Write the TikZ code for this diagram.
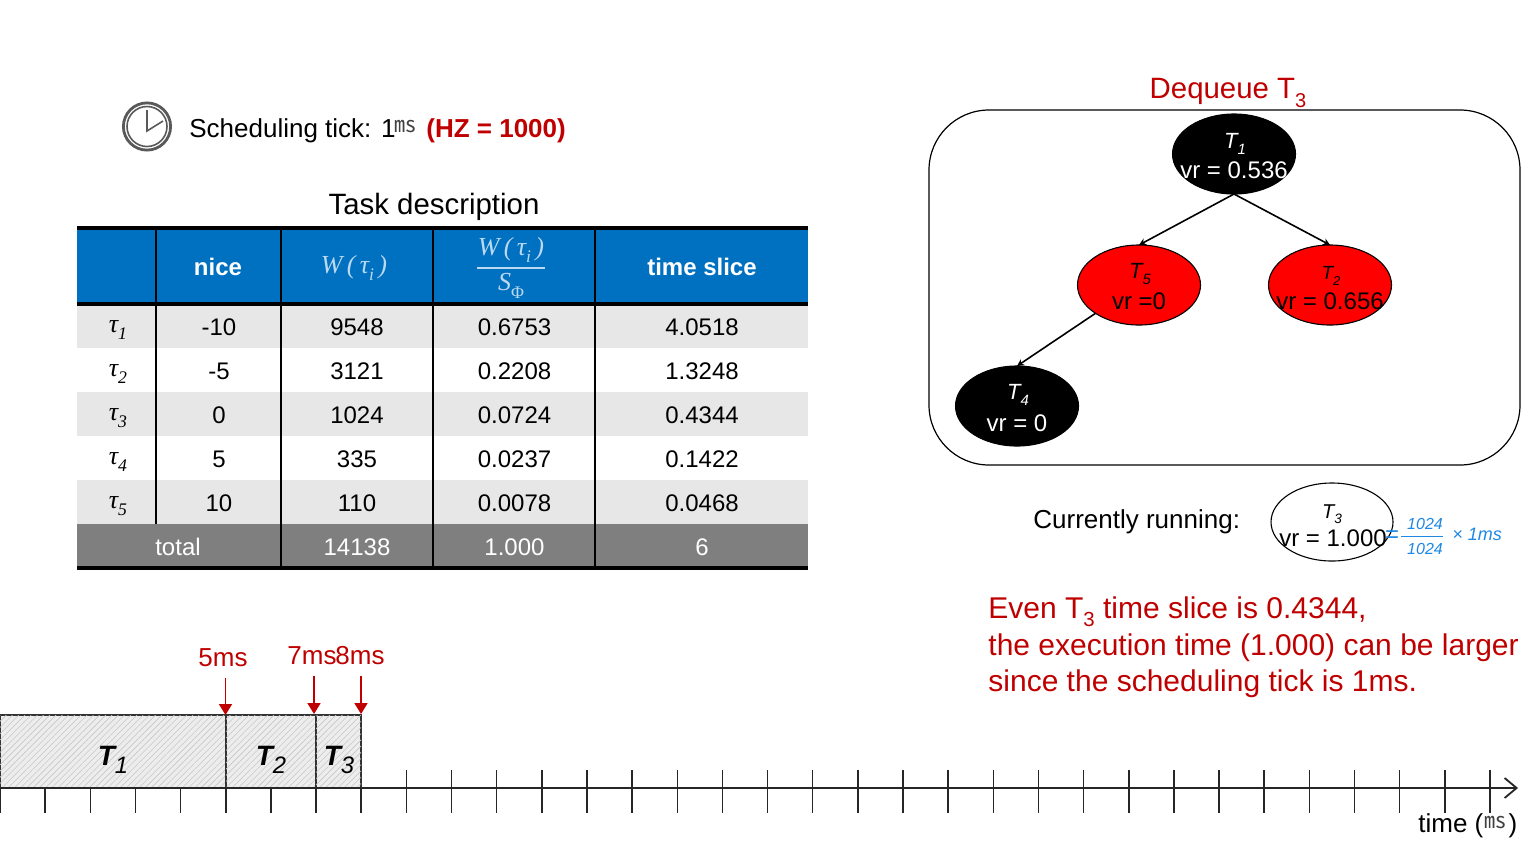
\documentclass[tikz,border=0pt]{standalone}
\usepackage{fontspec}
\setmainfont{Liberation Sans}
\newfontfamily\serf{Liberation Serif}
\newfontfamily\cjkf{Noto Sans CJK KR}
\usetikzlibrary{arrows.meta,shapes.geometric,patterns.meta}
\definecolor{hdrblue}{HTML}{0070C0}
\definecolor{rowgray}{HTML}{E7E7E7}
\definecolor{totgray}{HTML}{7F7F7F}
\definecolor{redtxt}{HTML}{C00000}
\definecolor{inkblue}{HTML}{1E88E5}
\definecolor{mathlt}{HTML}{BBD9F0}
\newcommand\fsz[1]{\fontsize{#1}{#1}\selectfont}
\newcommand\subx[1]{\raisebox{-0.28em}{\scalebox{0.68}{#1}}}
\newcommand\tauidx[1]{{\serf\itshape τ\subx{#1}}}
\newcommand\capT[1]{{\itshape T\subx{#1}}}
\newcommand\capTb[1]{{\bfseries\itshape T\raisebox{-0.3em}{\scalebox{0.85}{\mdseries\itshape #1}}}}
\newcommand\msq{{\cjkf ㎳}}
\tikzset{
 x=0.5pt,y=-0.5pt,
 cell/.style={inner sep=0,anchor=center,font=\fsz{12}},
 taulab/.style={inner sep=0,anchor=center,font=\fsz{13}},
 hdr/.style={inner sep=0,anchor=center,text=white,font=\fsz{12}\bfseries},
 mathhdr/.style={inner sep=0,anchor=center,text=mathlt,font=\fsz{13}\serf\itshape},
 rt/.style={inner sep=0,anchor=center,text=redtxt,font=\fsz{13}},
 para/.style={inner sep=0,anchor=west,text=redtxt,font=\fsz{15}},
 ell/.style={ellipse,draw=black,line width=.55pt,inner sep=0,outer sep=0,minimum width=61.5pt,minimum height=40pt},
 treetxt/.style={inner sep=0,anchor=center,font=\fsz{12}},
 treecap/.style={inner sep=0,anchor=center,font=\fsz{11}},
 treearrow/.style={draw=black,line width=.8pt,-{Stealth[length=3.5pt,width=3.5pt]}},
 redarrow/.style={draw=redtxt,line width=.9pt,-{Triangle[length=5.5pt,width=6.5pt]}},
 tick/.style={draw=black!85,line width=.75pt},
 tline/.style={draw=black!85,line width=.9pt},
 block/.style={rectangle,draw=black!80,line width=.8pt,minimum height=36.5pt,inner sep=0,outer sep=0,anchor=north west,
  fill=black!7,postaction={pattern={Lines[angle=45,distance=2.2pt,line width=.3pt]},pattern color=black!22}},
 hand/.style={inner sep=0,anchor=center,text=inkblue,font=\fsz{8}\itshape},
}
\begin{document}
\begin{tikzpicture}
\path[use as bounding box,fill=white] (0,0) rectangle (1530,852);

% clock
\draw[black!65,line width=1.4pt] (147,126.5) circle[radius=11.8pt];
\draw[black!65,line width=.8pt] (147,126.5) circle[radius=10pt];
\draw[black!65,line width=.8pt] (147,110) -- (147,131) -- (163,121);

% header text
\node[inner sep=0,anchor=west,font=\fsz{13}] (tick) at (189,131) {Scheduling tick: 1};
\node[inner sep=0,anchor=center,font=\fsz{11},text=black!75] (tickms) at (405,127) {\msq};
\node[inner sep=0,anchor=west,font=\fsz{13}\bfseries,text=redtxt] (hz) at (426,131) {(HZ = 1000)};
\node[inner sep=0,anchor=center,font=\fsz{14.7}] (title) at (434,207) {Task description};

% table fills
\fill[hdrblue] (77,228) rectangle (808,304);
\foreach \yy in {304,392,480}{\fill[rowgray] (77,\yy) rectangle (808,\yy+44);}
\fill[totgray] (77,524) rectangle (808,568);
% table rules
\draw[black,line width=1.1pt] (156,228) -- (156,524);
\foreach \xx in {281,433,595}{\draw[black,line width=1.1pt] (\xx,228) -- (\xx,568);}
\foreach \yy in {228,304,568}{\draw[black,line width=1.9pt] (77,\yy) -- (808,\yy);}

% table header
\node[hdr] (hnice) at (218,267) {nice};
\node[mathhdr] (hw) at (354,268) {W\,(\,τ\subx{i}\,)};
\node[mathhdr] (hfa) at (511,250) {W\,(\,τ\subx{i}\,)};
\draw[mathlt,line width=.6pt] (477,268) -- (545,268);
\node[mathhdr] (hfb) at (511,286) {S\subx{\upshape Φ}};
\node[hdr] (hslice) at (702,267) {time slice};

% table rows
\foreach \n/\yc/\nc/\wc/\fc/\tc in {1/326/-10/9548/0.6753/4.0518,2/370/-5/3121/0.2208/1.3248,3/414/0/1024/0.0724/0.4344,4/458/5/335/0.0237/0.1422,5/502/10/110/0.0078/0.0468}{
 \node[taulab] (tau\n) at (118,\yc+4) {\tauidx{\n}};
 \node[cell] (nice\n) at (219,\yc+1) {\nc};
 \node[cell] (w\n) at (357,\yc+1) {\wc};
 \node[cell] (f\n) at (514.5,\yc+1) {\fc};
 \node[cell] (ts\n) at (702,\yc+1) {\tc};
}
\node[cell,text=white] (tot) at (178,547) {total};
\node[cell,text=white] (totw) at (357,547) {14138};
\node[cell,text=white] (totf) at (514.5,547) {1.000};
\node[cell,text=white] (tott) at (702,547) {6};

% tree
\node[inner sep=0,anchor=center,text=redtxt,font=\fsz{14.7}] (deq) at (1228,93) {Dequeue T\subx{3}};
\draw[black,line width=.6pt,rounded corners=30pt] (929,110) rectangle (1520,465);
\node[ell,fill=black] (t1) at (1234,154) {};
\node[ell,fill=red] (t5) at (1139,285) {};
\node[ell,fill=red] (t2) at (1330,285) {};
\node[ell,fill=black] (t4) at (1017,406) {};
\draw[treearrow] (t1.south) -- (t5.north);
\draw[treearrow] (t1.south) -- (t2.north);
\draw[treearrow] (t5.south west) -- (t4.north);
\node[treecap,text=white] (t1a) at (1235,144) {\capT{1}};
\node[treetxt,text=white] (t1b) at (1234,170) {vr = 0.536};
\node[treecap] (t5a) at (1140,274) {\capT{5}};
\node[treetxt] (t5b) at (1139,301) {vr =0};
\node[treecap,font=\fsz{9.5}] (t2a) at (1331,276) {\capT{2}};
\node[treetxt] (t2b) at (1330,301) {vr = 0.656};
\node[treecap,text=white] (t4a) at (1018,395) {\capT{4}};
\node[treetxt,text=white] (t4b) at (1017,423) {vr = 0};

% currently running
\node[inner sep=0,anchor=west,font=\fsz{13}] (cr) at (1033,522) {Currently running:};
\node[ell,fill=none,minimum width=61pt,minimum height=39pt] (t3) at (1332,522) {};
\node[inner sep=0,anchor=center,font=\fsz{10}] (t3a) at (1332,514) {\capT{3}};
\node[treetxt] (t3b) at (1333,538) {vr = 1.000};
\node[inner sep=0,anchor=center,text=inkblue,font=\fsz{12}] (eq) at (1392,537) {=};
\node[hand] (fa) at (1425,524) {1024};
\draw[inkblue,line width=.5pt] (1401,536) -- (1443,536);
\node[hand] (fb) at (1425,549) {1024};
\node[hand,font=\fsz{9}\itshape] (xms) at (1477,534) {× 1ms};

% explanation
\node[para] (p1) at (988,612) {Even T\subx{3} time slice is 0.4344,};
\node[para] (p2) at (988,648) {the execution time (1.000) can be larger};
\node[para] (p3) at (988,684) {since the scheduling tick is 1ms.};

% gantt
\node[block,minimum width=113pt] (b1) at (0,715) {};
\node[block,minimum width=45pt] (b2) at (226,715) {};
\node[block,minimum width=22.5pt] (b3) at (316,715) {};
\node[inner sep=0,anchor=center,font=\fsz{14}] (b1t) at (113,760) {\capTb{1}};
\node[inner sep=0,anchor=center,font=\fsz{14}] (b2t) at (271,760) {\capTb{2}};
\node[inner sep=0,anchor=center,font=\fsz{14}] (b3t) at (339,760) {\capTb{3}};

% axis
\coordinate (axs) at (0,788);
\coordinate (axe) at (1518,788);
\draw[tline,-{Straight Barb[length=6pt,width=10pt]}] (axs) -- (axe);
\foreach \k in {0,...,8}{\draw[tick] ({\k*45.15},788) -- ({\k*45.15},813);}
\foreach \k in {9,...,33}{\draw[tick] ({\k*45.15},770) -- ({\k*45.15},813);}

% red markers
\node[rt] (m5) at (223,658) {5ms};
\node[rt] (m7) at (312,656) {7ms};
\node[rt] (m8) at (360,656) {8ms};
\coordinate (a5) at (225.5,678);
\coordinate (a7) at (314,676);
\coordinate (a8) at (361,676);
\coordinate (e5) at (225.5,715);
\coordinate (e7) at (314,714);
\coordinate (e8) at (361,714);
\draw[redarrow] (a5) -- (e5);
\draw[redarrow] (a7) -- (e7);
\draw[redarrow] (a8) -- (e8);

% time label
\node[inner sep=0,anchor=west,font=\fsz{13}] (tm) at (1418,826) {time (};
\node[inner sep=0,anchor=center,font=\fsz{11},text=black!75] (tmms) at (1495,822) {\msq};
\node[inner sep=0,anchor=center,font=\fsz{13}] (tmc) at (1513,826) {)};
\end{tikzpicture}
\end{document}
